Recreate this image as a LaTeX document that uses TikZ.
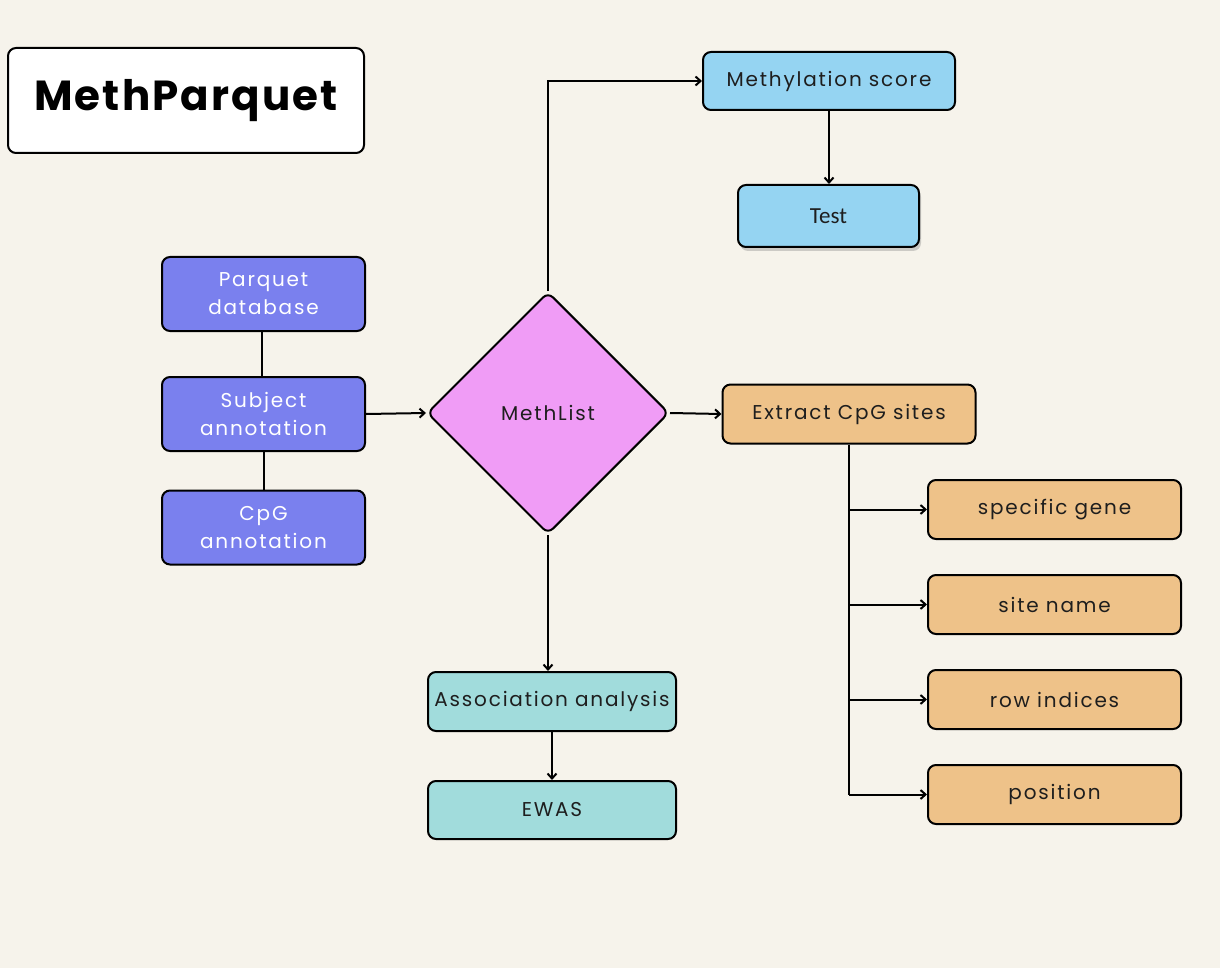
\documentclass[tikz,border=0pt]{standalone}
\usepackage{fontspec}
\setmainfont{Poppins}[LetterSpace=9]
\newfontfamily\titlefont{Poppins}[LetterSpace=5]
\newfontfamily\calfont{Carlito}
\usetikzlibrary{arrows.meta,shapes.geometric,shadows}
\definecolor{bgc}{HTML}{F6F3EB}
\definecolor{peri}{HTML}{7A80EE}
\definecolor{pinkc}{HTML}{F09CF6}
\definecolor{bluec}{HTML}{95D4F2}
\definecolor{tanc}{HTML}{EEC289}
\definecolor{tealc}{HTML}{A1DCDC}
\definecolor{txt}{HTML}{1E1E1E}
\tikzset{
  box/.style={draw=black, line width=2pt, rounded corners=8pt, inner sep=0pt, align=center, font=\fontsize{20}{28}\selectfont, text=txt},
  pbox/.style={box, fill=peri, text=white, minimum width=203pt, minimum height=74pt},
  obox/.style={box, fill=tanc, minimum width=253pt, minimum height=59pt},
  conn/.style={line width=2pt, draw=black},
  arr/.style={conn, -{Straight Barb[length=5pt,width=9pt,line width=2pt]}},
}
\begin{document}
\begin{tikzpicture}[x=1pt,y=-1pt]
\fill[bgc] (0,0) rectangle (1220,968);
\useasboundingbox (0,0) rectangle (1220,968);

% title
\node[box, fill=white, minimum width=356pt, minimum height=105pt, font=\titlefont\fontsize{42}{50}\selectfont\bfseries, text=black] (title) at (186,100.5) {MethParquet};

% left column
\node[pbox] (parq) at (263.5,294) {Parquet\\database};
\node[pbox] (subj) at (263.5,414) {Subject\\annotation};
\node[pbox] (cpg) at (263.5,527.5) {CpG\\annotation};

% diamond
\node[diamond, draw=black, line width=2pt, fill=pinkc, rounded corners=7pt, minimum width=242pt, minimum height=242pt, inner sep=0pt, font=\fontsize{20}{24}\selectfont, text=txt] (ml) at (548,413) {MethList};

% top branch
\node[box, fill=bluec, minimum width=252pt, minimum height=58pt] (ms) at (829,81) {Methylation score};
\node[box, fill=bluec, minimum width=181pt, minimum height=62pt, font=\calfont\fontsize{23}{28}\selectfont, drop shadow={opacity=0.35, shadow xshift=2pt, shadow yshift=-4pt}] (test) at (828.5,216) {Test};

% right branch
\node[obox] (ext) at (849,414) {Extract CpG sites};
\node[obox] (sg) at (1054.5,509.5) {specific gene};
\node[obox] (sn) at (1054.5,604.5) {site name};
\node[obox] (ri) at (1054.5,699.5) {row indices};
\node[obox] (pos) at (1054.5,794.5) {position};

% bottom branch
\node[box, fill=tealc, minimum width=248pt, minimum height=59pt] (assoc) at (552,701.5) {Association analysis};
\node[box, fill=tealc, minimum width=248pt, minimum height=58pt] (ewas) at (552,810) {EWAS};

% connectors
\draw[conn] (parq.south -| 262,0) -- (subj.north -| 262,0);
\draw[conn] (subj.south -| 264,0) -- (cpg.north -| 264,0);
\draw[arr] (subj.east) -- (ml.west);
\draw[arr] (ml.north) |- (ms.west);
\draw[arr] (ms.south) -- (test.north -| ms.south);
\draw[arr] (ml.east) -- (ext.west);
\draw[arr] (ml.south) -- (assoc.north -| ml.south);
\draw[arr] (assoc.south) -- (ewas.north);
\coordinate (trunk) at (ext.south);
\draw[conn] (trunk) -- (trunk |- pos.west);
\draw[arr] (trunk |- sg.west) -- (sg.west);
\draw[arr] (trunk |- sn.west) -- (sn.west);
\draw[arr] (trunk |- ri.west) -- (ri.west);
\draw[arr] (trunk |- pos.west) -- (pos.west);
\end{tikzpicture}
\end{document}
